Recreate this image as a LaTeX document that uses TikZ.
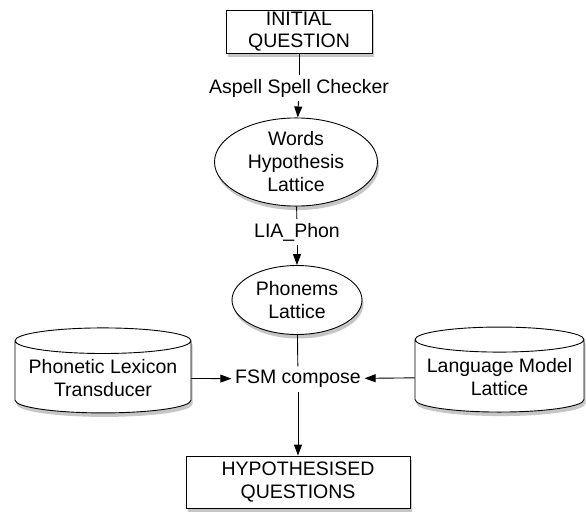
\documentclass[tikz,border=0pt]{standalone}
\usepackage{fontspec}
\setmainfont{Liberation Sans}
\usetikzlibrary{shapes.geometric,shadows,arrows.meta}

\begin{document}
\begin{tikzpicture}[x=1pt,y=-1pt,line width=0.9pt,
    font=\fontsize{19.5}{23}\selectfont,
    shade/.style={drop shadow={shadow xshift=1.5pt,shadow yshift=-4pt,opacity=0.45}},
    to/.style={-{Triangle[length=11pt,width=8pt]}}]
      \useasboundingbox (0,0) rectangle (586,513);

      \begin{scope}[every node/.style={draw,fill=white,shade,align=center,inner sep=1pt}]
        \node[rectangle,minimum width=146,minimum height=43] (init) at (299,31.5) {INITIAL\\[-1pt]QUESTION};
        \node[ellipse,minimum width=163,minimum height=75] (words) at (296,162) {Words\\Hypothesis\\Lattice};
        \node[ellipse,minimum width=130,minimum height=69] (phonems) at (297,300) {Phonems\\Lattice};
        \node[cylinder,shape border rotate=90,aspect=0.17,minimum width=176,minimum height=85] (lexicon) at (103,378) {Phonetic Lexicon\\Transducer};
        \node[cylinder,shape border rotate=90,aspect=0.17,minimum width=169,minimum height=85] (model) at (499.5,377) {Language Model\\Lattice};
        \node[rectangle,minimum width=224,minimum height=52] (hyp) at (298,482) {HYPOTHESISED\\QUESTIONS};
      \end{scope}

      \node (aspell) at (299,88) {Aspell Spell Checker};
      \node (liaphon) at (297,232) {LIA\_Phon};
      \node (fsm) at (298,379) {FSM compose};

      \path (init) edge (aspell);
      \path (aspell) edge[to] (words);
      \path (words) edge (liaphon);
      \path (liaphon) edge[to] (phonems);
      \path (phonems) edge (fsm);
      \path (fsm) edge[to] (hyp);
      \path (lexicon) edge[to] (fsm);
      \path (model) edge[to] (fsm);
    \end{tikzpicture}
\end{document}
